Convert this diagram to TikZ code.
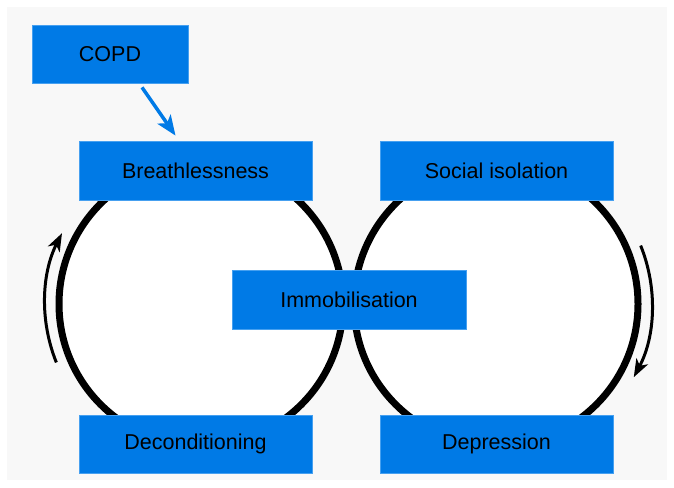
\documentclass[tikz,border=0pt]{standalone}
\usepackage{fontspec}
\setmainfont{Liberation Sans}
\usetikzlibrary{arrows.meta}
\definecolor{boxblue}{RGB}{0,122,230}
\definecolor{boxedge}{RGB}{70,160,240}
\definecolor{bggray}{RGB}{248,248,248}
\begin{document}
\begin{tikzpicture}[x=1pt,y=1pt,
  lbox/.style={rectangle, fill=boxblue, draw=boxedge, line width=0.8pt,
    minimum width=233pt, minimum height=59pt, inner sep=0pt,
    font=\fontsize{21.5}{25}\selectfont, text=black},
  loopring/.style={circle, draw=black, fill=white, line width=7pt,
    minimum size=284pt, inner sep=0pt},
  cyclearrow/.style={draw=black, line width=3pt,
    -{Stealth[length=18pt,width=13pt,inset=5pt]}},
  copdarrow/.style={draw=boxblue, line width=3.5pt,
    -{Stealth[length=20pt,width=16pt,inset=5pt]}}]
\useasboundingbox (0,0) rectangle (674,487);
\fill[white] (0,0) rectangle (674,487);
\fill[bggray] (7,7) rectangle (667,480);
% rings
\node[loopring] (lring) at (201,183) {};
\node[loopring] (rring) at (496,183) {};
% cycle arrows
\draw[cyclearrow] ([shift={(202:156)}]lring.center) arc[start angle=202, end angle=153, radius=156];
\draw[cyclearrow] ([shift={(22:156)}]rring.center) arc[start angle=22, end angle=-28, radius=156];
% boxes
\node[lbox, minimum width=156pt, minimum height=58pt] (copd) at (110,433) {COPD};
\node[lbox] (breath) at (195.5,316.5) {Breathlessness};
\node[lbox] (social) at (496.5,316.5) {Social isolation};
\node[lbox, minimum width=234pt] (immob) at (349,187.5) {Immobilisation};
\node[lbox, minimum height=58pt] (decon) at (195.5,43) {Deconditioning};
\node[lbox, minimum height=58pt] (depr) at (496.5,43) {Depression};
% COPD arrow
\draw[copdarrow] ([xshift=32pt,yshift=-4pt]copd.south) -- ([xshift=-20pt,yshift=5pt]breath.north);
\end{tikzpicture}
\end{document}
